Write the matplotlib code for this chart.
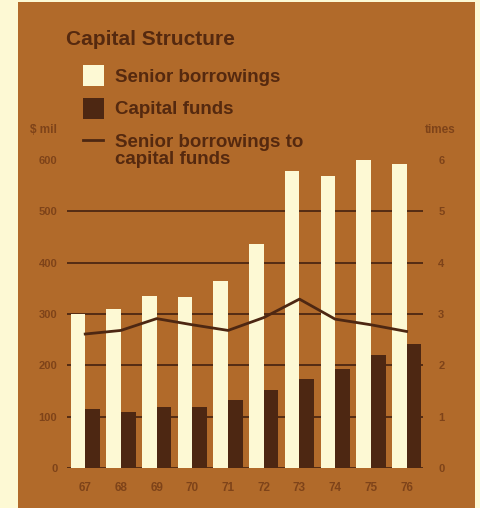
import matplotlib
matplotlib.use("Agg")
import matplotlib.pyplot as plt
from matplotlib.patches import Rectangle
from matplotlib.lines import Line2D

# data
years = ["67", "68", "69", "70", "71", "72", "73", "74", "75", "76"]
senior_borrowings = [300, 310, 336, 334, 365, 437, 578, 569, 600, 592]
capital_funds = [115, 109, 118, 119, 133, 152, 173, 193, 221, 242]
ratio = [2.61, 2.68, 2.91, 2.79, 2.68, 2.93, 3.29, 2.90, 2.79, 2.66]
left_ticks = [0, 100, 200, 300, 400, 500, 600]
right_ticks = [0, 1, 2, 3, 4, 5, 6]

cream = "#fdf9d4"
panel = "#b16a2a"
dark = "#4d2712"
text_dark = "#55290f"
tick_col = "#7e4319"

plt.rcParams["font.family"] = ["Liberation Sans", "DejaVu Sans"]

W, H = 480, 508
fig = plt.figure(figsize=(W / 100, H / 100), dpi=100, facecolor=cream)

# brown panel behind everything
fig.patches.append(Rectangle((18 / W, 0), (475 - 18) / W, (H - 2) / H,
                             transform=fig.transFigure, facecolor=panel,
                             edgecolor="none", zorder=-10))

ax = fig.add_axes([67 / W, 1 - 468 / H, (423 - 67) / W, (468 - 160) / H])
ax.set_facecolor("none")
x = list(range(len(years)))
w = 0.41
ax.bar([i - w / 2 for i in x], senior_borrowings, width=w, color=cream, zorder=3)
ax.bar([i + w / 2 for i in x], capital_funds, width=w, color=dark, zorder=3)
for v in left_ticks[:-1]:
    ax.axhline(v, color=dark, lw=1.3, zorder=2)
ax.set_xlim(-0.51, 9.46)
ax.set_ylim(0, 600)
ax.set_yticks(left_ticks)
ax.set_xticks(x)
ax.set_xticklabels(years)
ax.tick_params(axis="y", length=0, pad=7, labelsize=8, labelcolor=tick_col)
ax.tick_params(axis="x", length=0, pad=10, labelsize=8.5, labelcolor=tick_col)
for s in ax.spines.values():
    s.set_visible(False)

ax2 = ax.twinx()
ax2.plot(x, ratio, color=dark, lw=2.0, zorder=4)
ax2.set_ylim(0, 6)
ax2.set_yticks(right_ticks)
ax2.tick_params(axis="y", length=0, pad=11, labelsize=8, labelcolor=tick_col)
for s in ax2.spines.values():
    s.set_visible(False)
for lab in ax.get_xticklabels() + ax.get_yticklabels() + ax2.get_yticklabels():
    lab.set_fontweight("bold")

# axis unit labels
fig.text(43 / W, 1 - 130 / H, "$ mil", ha="center", va="center",
         fontsize=8.5, fontweight="bold", color=tick_col)
fig.text(440 / W, 1 - 130 / H, "times", ha="center", va="center",
         fontsize=8.5, fontweight="bold", color=tick_col)

# title and legend
fig.text(66 / W, 1 - 45 / H, "Capital Structure", ha="left", va="baseline",
         fontsize=15, fontweight="bold", color=text_dark)
fig.patches.append(Rectangle((83 / W, 1 - 86 / H), 21 / W, 21 / H,
                             transform=fig.transFigure, facecolor=cream,
                             edgecolor="none"))
fig.patches.append(Rectangle((83 / W, 1 - 119 / H), 21 / W, 21 / H,
                             transform=fig.transFigure, facecolor=dark,
                             edgecolor="none"))
fig.lines.append(Line2D([83 / W, 103 / W], [1 - 140 / H, 1 - 140 / H],
                        transform=fig.transFigure, color=dark, lw=2.0))
fig.text(115 / W, 1 - 82 / H, "Senior borrowings", ha="left", va="baseline",
         fontsize=13.5, fontweight="bold", color=text_dark)
fig.text(115 / W, 1 - 114 / H, "Capital funds", ha="left", va="baseline",
         fontsize=13.5, fontweight="bold", color=text_dark)
fig.text(115 / W, 1 - 147 / H, "Senior borrowings to", ha="left", va="baseline",
         fontsize=13.5, fontweight="bold", color=text_dark)
fig.text(115 / W, 1 - 164 / H, "capital funds", ha="left", va="baseline",
         fontsize=13.5, fontweight="bold", color=text_dark)

fig.savefig("out.png", dpi=100, facecolor=cream)
